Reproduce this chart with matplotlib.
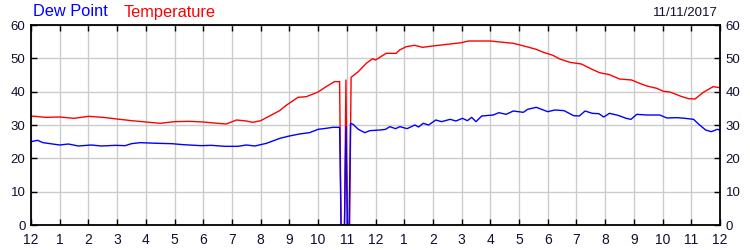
import matplotlib
matplotlib.use('Agg')
import matplotlib.pyplot as plt

# readings, hours since midnight
temp_hours = [0.0, 0.5, 1.0, 1.5, 2.0, 2.5, 3.0, 3.5, 4.0, 4.5, 5.0, 5.5, 6.0, 6.5, 6.8,
              7.16, 7.5, 7.72, 8.0, 8.31, 8.66, 8.89, 9.3, 9.59, 10.0, 10.28, 10.57, 10.75,
              10.80, 10.92, 10.97, 11.02, 11.10, 11.15, 11.4, 11.68, 11.9, 12.0, 12.37, 12.72,
              12.84, 13.07, 13.36, 13.64, 14.0, 14.6, 15.0, 15.24, 16.0, 16.34, 16.8, 17.26,
              17.6, 17.85, 18.18, 18.42, 18.77, 19.17, 19.47, 19.8, 20.15, 20.5, 20.92, 21.2,
              21.45, 21.8, 22.03, 22.26, 22.61, 22.9, 23.13, 23.42, 23.76, 24.0]
temperature = [32.7, 32.3, 32.4, 32.0, 32.6, 32.3, 31.8, 31.3, 30.9, 30.5, 31.0, 31.1, 30.9,
               30.5, 30.3, 31.5, 31.2, 30.8, 31.3, 32.7, 34.3, 35.9, 38.3, 38.5, 39.9, 41.5,
               43.0, 43.0, 0.0, 0.0, 43.5, 0.0, 0.0, 44.3, 46.0, 48.5, 49.9, 49.5, 51.5, 51.5,
               52.5, 53.5, 53.9, 53.3, 53.7, 54.3, 54.7, 55.2, 55.2, 54.9, 54.5, 53.5, 52.7,
               51.8, 50.9, 49.8, 48.8, 48.3, 47.0, 45.7, 45.1, 43.8, 43.5, 42.5, 41.7, 41.0,
               40.1, 39.9, 38.7, 37.9, 37.8, 39.8, 41.5, 41.2]

dew_hours = [0.0, 0.23, 0.42, 1.0, 1.3, 1.65, 2.1, 2.45, 2.94, 3.28, 3.5, 3.8, 4.43, 4.9,
             5.3, 5.93, 6.28, 6.76, 7.2, 7.5, 7.8, 8.2, 8.67, 9.0, 9.35, 9.7, 10.0, 10.28,
             10.51, 10.75, 10.80, 10.92, 10.97, 11.02, 11.08, 11.13, 11.22, 11.4, 11.63,
             11.8, 12.17, 12.35, 12.5, 12.7, 12.85, 13.1, 13.37, 13.5, 13.66, 13.85, 14.1,
             14.3, 14.6, 14.8, 15.03, 15.2, 15.35, 15.5, 15.7, 16.1, 16.3, 16.55, 16.8,
             17.15, 17.3, 17.6, 18.0, 18.25, 18.57, 18.9, 19.1, 19.3, 19.55, 19.78, 19.95,
             20.15, 20.45, 20.73, 20.9, 21.1, 21.45, 21.9, 22.15, 22.5, 22.78, 23.08, 23.25,
             23.5, 23.7, 23.9, 24.0]
dew_point = [25.0, 25.4, 24.7, 24.0, 24.3, 23.7, 24.0, 23.7, 23.9, 23.8, 24.4, 24.7, 24.5,
             24.4, 24.1, 23.8, 23.9, 23.6, 23.6, 24.0, 23.7, 24.5, 26.0, 26.7, 27.3, 27.7,
             28.7, 29.0, 29.3, 29.3, 0.0, 0.0, 29.5, 0.0, 0.0, 30.5, 30.2, 28.7, 27.7, 28.3,
             28.5, 28.7, 29.5, 28.9, 29.5, 28.9, 30.0, 29.4, 30.5, 30.0, 31.5, 31.0, 31.7,
             31.2, 32.0, 31.3, 32.3, 31.0, 32.7, 33.0, 33.7, 33.2, 34.2, 33.8, 34.7, 35.3,
             34.0, 34.5, 34.3, 32.8, 32.7, 34.2, 33.5, 33.4, 32.4, 33.5, 32.9, 32.0, 31.7,
             33.2, 33.0, 33.0, 32.1, 32.2, 32.0, 31.7, 30.3, 28.5, 28.0, 28.7, 28.5]

hour_labels = ['12'] + [str(h) for h in range(1, 12)] + ['12'] + [str(h) for h in range(1, 12)] + ['12']
y_ticks = [0, 10, 20, 30, 40, 50, 60]
date_text = '11/11/2017'

plt.rcParams['font.family'] = ['Liberation Sans', 'DejaVu Sans']
label_color = '#101030'

fig = plt.figure(figsize=(7.5, 2.5), dpi=100)
ax = fig.add_axes([31 / 750, 25 / 250, 689 / 750, 200 / 250])

ax.plot(temp_hours, temperature, color='#ff0000', linewidth=1.0)
ax.plot(dew_hours, dew_point, color='#0000ff', linewidth=1.0)

ax.set_xlim(0, 24)
ax.set_ylim(0, 60)
ax.set_xticks(range(25))
ax.set_xticklabels(hour_labels)
ax.set_yticks(y_ticks)
ax.grid(True, color='#cccccc', linewidth=1.0)
ax.set_axisbelow(True)

for spine in ax.spines.values():
    spine.set_linewidth(1.3)
ax.tick_params(axis='both', direction='in', length=4, width=1.0, colors='black',
               labelcolor=label_color)
ax.tick_params(axis='x', top=True, labelsize=10, pad=6)
ax.tick_params(axis='y', right=True, labelright=True, labelsize=9.5, pad=4)

fig.text(33 / 750, 1 - 12 / 250, 'Dew Point', color='#0000ff', fontsize=11.8, va='center')
fig.text(124 / 750, 1 - 12 / 250, 'Temperature', color='#ff0000', fontsize=11.8, va='center')
fig.text(718 / 750, 1 - 13 / 250, date_text, color=label_color, fontsize=9.5, va='center', ha='right')

fig.savefig('out.png', dpi=100)
